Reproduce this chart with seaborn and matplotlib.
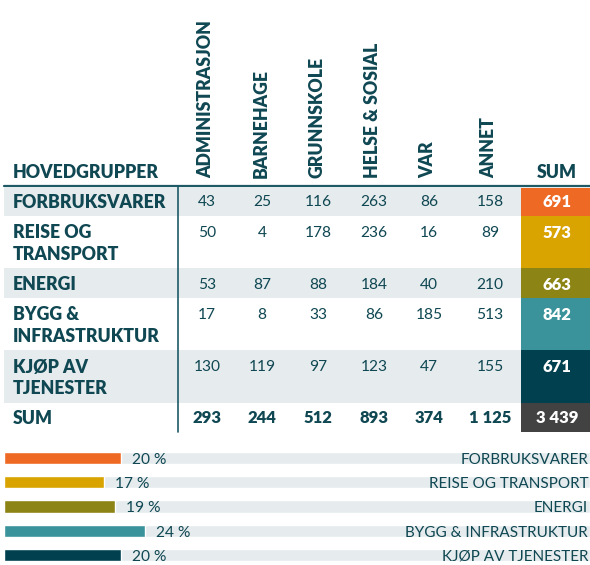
import numpy as np
import pandas as pd
import matplotlib.pyplot as plt
import seaborn as sns
from matplotlib.patches import Rectangle

# ─── DATA ────────────────────────────────────────────────────────────────────
groups = ["FORBRUKSVARER", "REISE OG\nTRANSPORT", "ENERGI",
          "BYGG &\nINFRASTRUKTUR", "KJØP AV\nTJENESTER"]
bar_labels = ["FORBRUKSVARER", "REISE OG TRANSPORT", "ENERGI",
              "BYGG & INFRASTRUKTUR", "KJØP AV TJENESTER"]
sectors = ["ADMINISTRASJON", "BARNEHAGE", "GRUNNSKOLE",
           "HELSE & SOSIAL", "VAR", "ANNET"]
values = [
    [43, 25, 116, 263, 86, 158],
    [50, 4, 178, 236, 16, 89],
    [53, 87, 88, 184, 40, 210],
    [17, 8, 33, 86, 185, 513],
    [130, 119, 97, 123, 47, 155],
]
row_sums = [691, 573, 663, 842, 671]
col_sums = ["293", "244", "512", "893", "374", "1 125"]
total = "3 439"
shares = [20, 17, 19, 24, 20]

# ─── STYLE ───────────────────────────────────────────────────────────────────
sns.set_style("white")
plt.rcParams["font.family"] = ["Lato", "DejaVu Sans"]

INK = "#0f4752"
LINE = "#1d5a66"
BAND = "#e6ecee"
colors = ["#ee6a24", "#d9a300", "#8d8416", "#3a929b", "#00404f"]
TOTAL_C = "#424242"

# layout (pixels, top-down)
W, H = 590, 565
col_x = [207, 262, 318, 374, 429, 490]
sum_x = 557
row_top = [188, 216, 268, 298, 350, 403]
row_bot = [216, 268, 298, 350, 403, 432]
first_line = [202, 233, 285, 315, 367, 418]
line_step = 22

fig = plt.figure(figsize=(W / 100, H / 100), dpi=100)
ax = fig.add_axes([0, 0, 1, 1])
ax.set_xlim(0, W)
ax.set_ylim(H, 0)
ax.axis("off")

# shaded rows + sum column
for i in range(5):
    if i % 2 == 0:
        ax.add_patch(Rectangle((4, row_top[i]), 521 - 4, row_bot[i] - row_top[i],
                               color=BAND, lw=0, zorder=0))
    ax.add_patch(Rectangle((521, row_top[i]), W - 521, row_bot[i] - row_top[i],
                           color=colors[i], lw=0, zorder=0))
ax.add_patch(Rectangle((521, row_top[5]), W - 521, row_bot[5] - row_top[5],
                       color=TOTAL_C, lw=0, zorder=0))

ax.plot([4, W], [186, 186], color=LINE, lw=1.6, zorder=2)
ax.plot([178, 178], [186, 432], color=LINE, lw=1.2, zorder=2)

# header
hb = dict(color=INK, fontsize=12.7, fontweight="heavy")
ax.text(13, 173, "HOVEDGRUPPER", ha="left", va="center", **hb)
for x, s in zip(col_x, sectors):
    ax.text(x - 1, 178, s, rotation=90, ha="center", va="bottom", **hb)
ax.text(sum_x, 173, "SUM", ha="center", va="center", **hb)

# body
for i, g in enumerate(groups):
    for k, ln in enumerate(g.split("\n")):
        ax.text(13, first_line[i] + k * line_step, ln, ha="left", va="center", **hb)
    for x, v in zip(col_x, values[i]):
        ax.text(x, first_line[i], f"{v}", ha="center", va="center",
                color=INK, fontsize=11.2)
    ax.text(sum_x, first_line[i], f"{row_sums[i]}", ha="center", va="center",
            color="white", fontsize=12, fontweight="heavy")

ax.text(13, first_line[5], "SUM", ha="left", va="center", **hb)
for x, v in zip(col_x, col_sums):
    ax.text(x, first_line[5], v, ha="center", va="center",
            color=INK, fontsize=12, fontweight="heavy")
ax.text(sum_x, first_line[5], total, ha="center", va="center",
        color="white", fontsize=12, fontweight="heavy")

# ─── SHARE BARS ──────────────────────────────────────────────────────────────
df = pd.DataFrame({"group": bar_labels, "share": shares, "full": [100] * 5})
bx = fig.add_axes([4 / W, (H - 567.1) / H, (W - 4) / W, 121.2 / H])
sns.barplot(data=df, y="group", x="full", color=BAND, width=0.5,
            saturation=1, ax=bx, orient="h")
sns.barplot(data=df, y="group", x="share", hue="group", palette=colors,
            width=0.5, saturation=1, legend=False, ax=bx, orient="h")
bx.set_xlim(0, 100)
bx.set_ylim(4.5, -0.5)
bx.axis("off")
for i, (s, lab) in enumerate(zip(shares, bar_labels)):
    bx.text(s + 1.9, i + 0.08, f"{s} %", ha="left", va="center",
            color=INK, fontsize=11.2)
    bx.text(99.7, i + 0.08, lab, ha="right", va="center",
            color=INK, fontsize=11)

fig.savefig("out.png", dpi=100)
